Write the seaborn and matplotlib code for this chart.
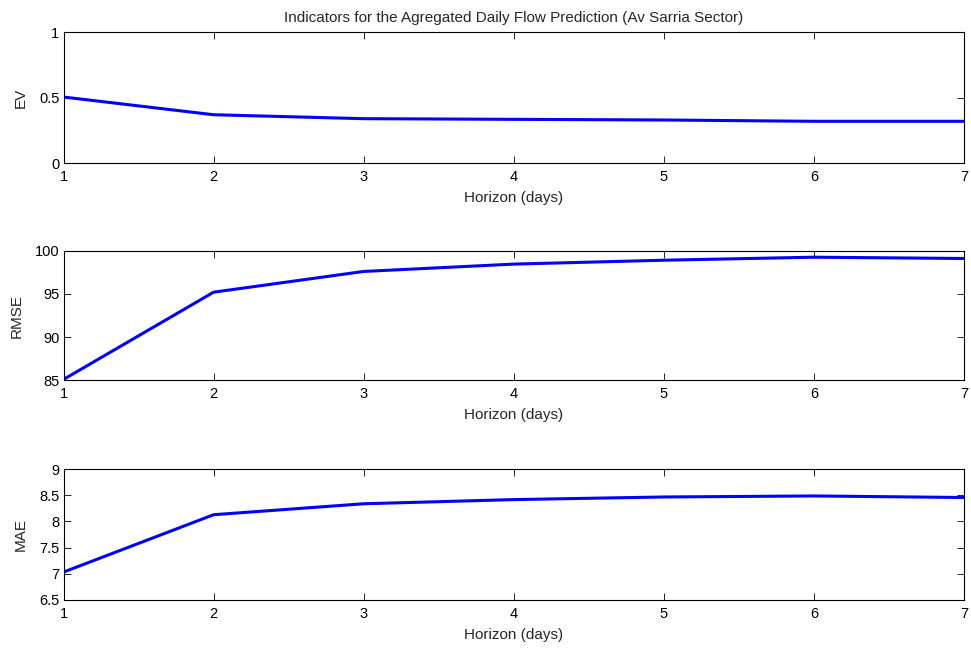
import matplotlib
matplotlib.use("Agg")
import matplotlib.pyplot as plt
import seaborn as sns
import pandas as pd

horizon = [1, 2, 3, 4, 5, 6, 7]
ev = [0.505, 0.37, 0.34, 0.335, 0.33, 0.32, 0.32]
rmse = [85.1, 95.2, 97.6, 98.45, 98.9, 99.25, 99.1]
mae = [7.03, 8.13, 8.34, 8.42, 8.47, 8.49, 8.46]

ev_ticks = [0, 0.5, 1]
rmse_ticks = [85, 90, 95, 100]
mae_ticks = [6.5, 7, 7.5, 8, 8.5, 9]

sns.set_style("ticks")
plt.rcParams['font.family'] = ['Liberation Sans', 'DejaVu Sans']
plt.rcParams['font.size'] = 10.5

fig = plt.figure(figsize=(9.71, 6.48), dpi=100)
left, width = 0.0654, 0.9274
rects = [(left, 0.748, width, 0.2025),
         (left, 0.4131, width, 0.2000),
         (left, 0.0745, width, 0.2012)]

specs = [("EV", ev, ev_ticks, (0, 1)),
         ("RMSE", rmse, rmse_ticks, (85, 100)),
         ("MAE", mae, mae_ticks, (6.5, 9))]

for rect, (name, vals, ticks, lim) in zip(rects, specs):
    ax = fig.add_axes(rect)
    df = pd.DataFrame({"h": horizon, "v": vals})
    sns.lineplot(data=df, x="h", y="v", ax=ax, color=(0, 0, 1), linewidth=2.2)
    ax.set_xlim(1, 7)
    ax.set_ylim(*lim)
    ax.set_xticks(horizon)
    ax.set_yticks(ticks)
    ax.set_yticklabels([f"{t:g}" for t in ticks])
    ax.set_xlabel("Horizon (days)", fontsize=11, labelpad=5)
    ax.set_ylabel(name, fontsize=11, labelpad=8)
    ax.tick_params(direction="in", top=True, right=True, length=5, width=0.6,
                   labelsize=10.5, colors="black")
    ax.tick_params(axis="x", pad=5)
    ax.tick_params(axis="y", pad=3)
    for s in ax.spines.values():
        s.set_visible(True)
        s.set_linewidth(0.8)
        s.set_color("black")
    if name == "EV":
        ax.set_title("Indicators for the Agregated Daily Flow Prediction (Av Sarria Sector)",
                     fontsize=11, pad=7)

fig.savefig("out.png", dpi=100)
